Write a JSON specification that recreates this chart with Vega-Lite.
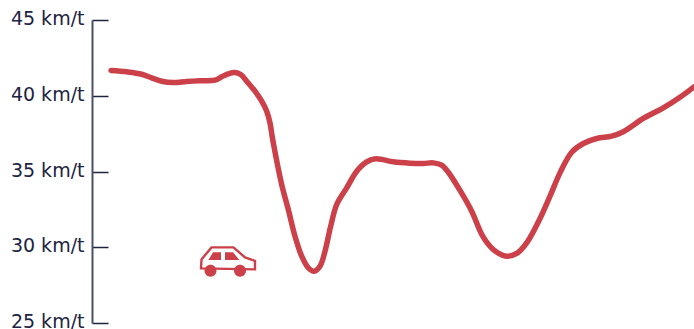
{
  "$schema": "https://vega.github.io/schema/vega-lite/v6.json",
  "width": 602,
  "height": 303,
  "autosize": "none",
  "padding": {"left": 92, "top": 20, "right": 0, "bottom": 6},
  "background": "white",
  "view": {"stroke": null},
  "datasets": {
    "speed": [
      {"d": 19, "v": 41.67}, {"d": 34.7, "v": 41.58}, {"d": 49.7, "v": 41.42}, {"d": 59.7, "v": 41.18},
      {"d": 69.7, "v": 40.96}, {"d": 81.3, "v": 40.87}, {"d": 94.7, "v": 40.94}, {"d": 108, "v": 40.99},
      {"d": 123, "v": 41.03}, {"d": 129.7, "v": 41.25}, {"d": 136.3, "v": 41.45}, {"d": 143, "v": 41.53},
      {"d": 148.7, "v": 41.40}, {"d": 154.7, "v": 40.96}, {"d": 163, "v": 40.30}, {"d": 169.7, "v": 39.64},
      {"d": 174.7, "v": 38.98}, {"d": 178, "v": 38.21}, {"d": 180.7, "v": 37.11},
      {"d": 189.7, "v": 34.14}, {"d": 196.3, "v": 32.49}, {"d": 203, "v": 30.73}, {"d": 209.7, "v": 29.41},
      {"d": 216.3, "v": 28.64}, {"d": 222, "v": 28.42}, {"d": 228, "v": 28.75}, {"d": 233, "v": 29.74},
      {"d": 238.7, "v": 31.39}, {"d": 244.7, "v": 32.82}, {"d": 254.7, "v": 33.92}, {"d": 264.7, "v": 35.02},
      {"d": 274.7, "v": 35.64}, {"d": 284, "v": 35.84}, {"d": 301.3, "v": 35.64}, {"d": 318, "v": 35.55},
      {"d": 331.3, "v": 35.53}, {"d": 341.3, "v": 35.57}, {"d": 349.7, "v": 35.42}, {"d": 356.3, "v": 34.95},
      {"d": 368, "v": 33.75}, {"d": 379.7, "v": 32.38}, {"d": 390.7, "v": 30.73}, {"d": 401.3, "v": 29.85},
      {"d": 414.7, "v": 29.41}, {"d": 424.7, "v": 29.59}, {"d": 434.7, "v": 30.29}, {"d": 448, "v": 31.9},
      {"d": 458, "v": 33.37}, {"d": 468, "v": 34.91}, {"d": 479.7, "v": 36.27}, {"d": 491.3, "v": 36.85},
      {"d": 504.7, "v": 37.18}, {"d": 519.7, "v": 37.33}, {"d": 531.3, "v": 37.62}, {"d": 551.3, "v": 38.5},
      {"d": 571.3, "v": 39.2}, {"d": 588, "v": 39.9}, {"d": 602, "v": 40.59}
    ],
    "car": [{"d": 136, "v": 29.2}]
  },
  "encoding": {
    "x": {"field": "d", "type": "quantitative", "scale": {"domain": [0, 602]}, "axis": null},
    "y": {
      "field": "v",
      "type": "quantitative",
      "scale": {"domain": [25, 45]},
      "axis": {
        "title": null,
        "values": [25, 30, 35, 40, 45],
        "labelExpr": "datum.value + ' km/t'",
        "grid": false,
        "tickSize": -16,
        "tickWidth": 1.5,
        "tickColor": "#1d2342",
        "domainWidth": 2,
        "domainColor": "#4a5068",
        "labelFont": "DejaVu Sans",
        "labelFontSize": 19,
        "labelColor": "#1d2342",
        "labelPadding": 24,
        "labelOffset": -1.5
      }
    }
  },
  "layer": [
    {
      "data": {"name": "speed"},
      "mark": {"type": "line", "color": "#cb4049", "strokeWidth": 5.5, "interpolate": "catmull-rom", "strokeCap": "round"}
    },
    {
      "data": {"name": "car"},
      "mark": {
        "type": "point",
        "filled": false,
        "size": 3136,
        "stroke": "#cb4049",
        "strokeWidth": 2.4,
        "opacity": 1,
        "shape": "M-0.964,0.32 L-0.946,0 L-0.589,-0.429 L0.196,-0.429 L0.607,-0.071 L0.964,0.054 L0.964,0.357 Z"
      }
    },
    {
      "data": {"name": "car"},
      "mark": {
        "type": "point",
        "filled": true,
        "size": 3136,
        "fill": "#cb4049",
        "opacity": 1,
        "shape": "M-0.7,0.02 L-0.536,-0.25 L-0.25,-0.25 L-0.25,0.02 Z M-0.107,-0.25 L0.179,-0.25 L0.41,0.02 L-0.107,0.02 Z M-0.839,0.41 a0.214,0.214 0 1,0 0.428,0 a0.214,0.214 0 1,0 -0.428,0 Z M0.215,0.41 a0.214,0.214 0 1,0 0.428,0 a0.214,0.214 0 1,0 -0.428,0 Z"
      }
    }
  ]
}
